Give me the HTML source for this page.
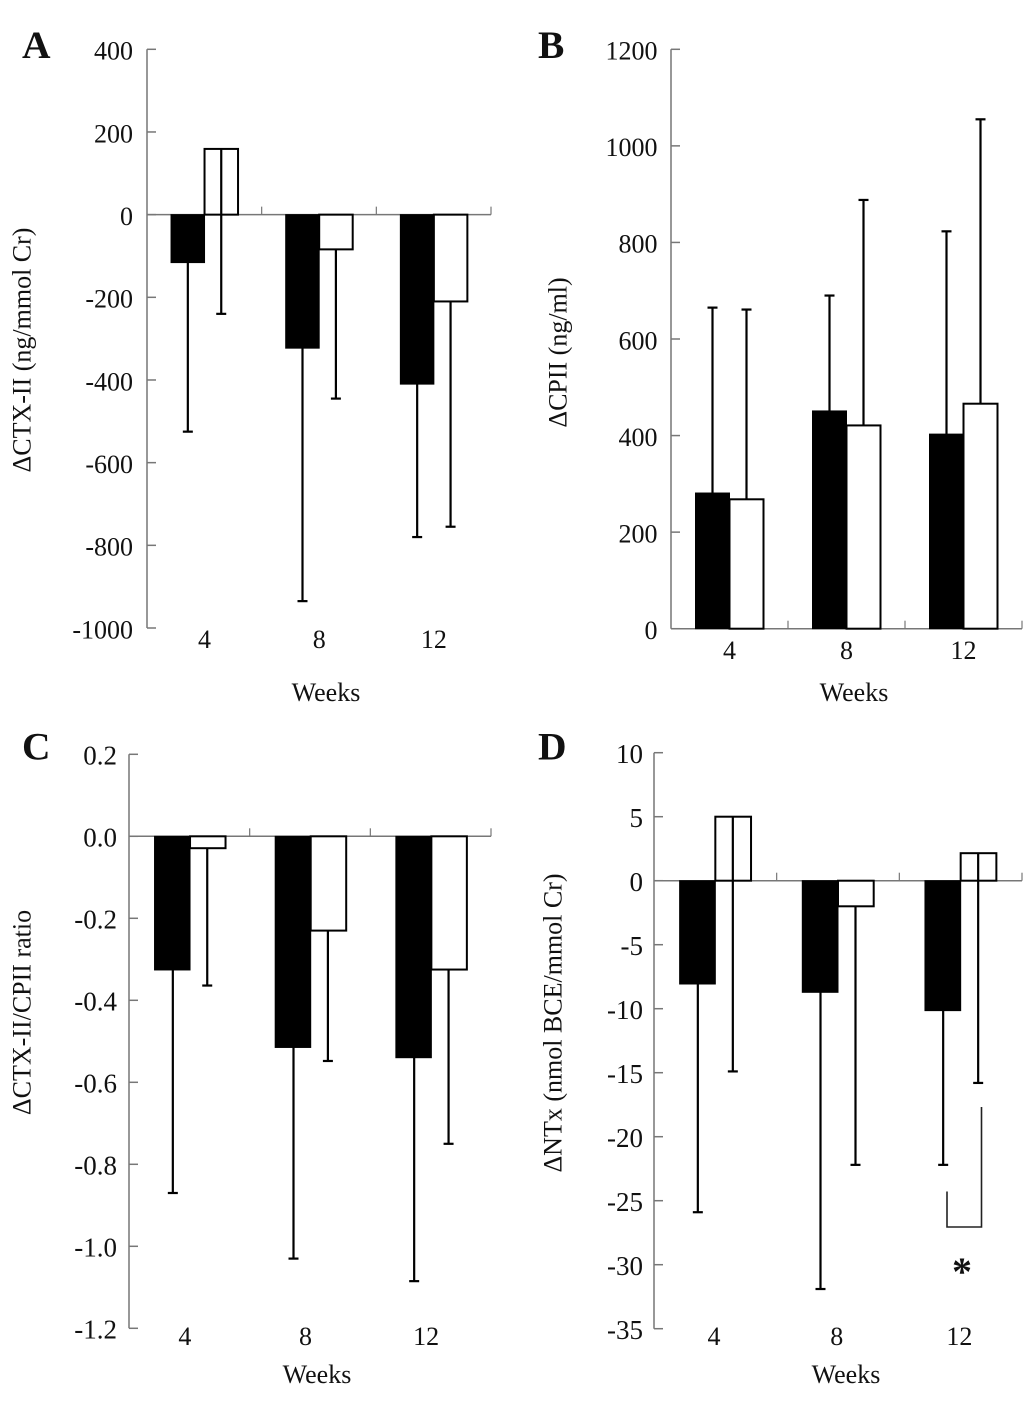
<!DOCTYPE html>
<html>
<head>
<meta charset="utf-8">
<title>Change in biomarkers by week</title>
<style>
html,body{margin:0;padding:0;background:#fff;}
#chart{display:block;width:1033px;height:1406px;}
text{font-family:"Liberation Serif",serif;fill:#111;}
</style>
</head>
<body>
<svg id="chart" width="1033" height="1406" viewBox="0 0 1033 1406" xmlns="http://www.w3.org/2000/svg"></svg>
<script>
const weeks = ['4', '8', '12'];

const ticksA = [400, 200, 0, -200, -400, -600, -800, -1000];
const blackA = [-116, -323, -410];
const whiteA = [159, -84, -210];
const blackErrA = [-525, -935, -780];
const whiteErrA = [-240, -445, -755];

const ticksB = [1200, 1000, 800, 600, 400, 200, 0];
const blackB = [281, 451, 403];
const whiteB = [268, 421, 466];
const blackErrB = [665, 690, 823];
const whiteErrB = [661, 888, 1055];

const ticksC = ['0.2', '0.0', '-0.2', '-0.4', '-0.6', '-0.8', '-1.0', '-1.2'];
const blackC = [-0.326, -0.515, -0.54];
const whiteC = [-0.029, -0.23, -0.325];
const blackErrC = [-0.87, -1.03, -1.085];
const whiteErrC = [-0.364, -0.548, -0.75];

const ticksD = [10, 5, 0, -5, -10, -15, -20, -25, -30, -35];
const blackD = [-8.07, -8.72, -10.15];
const whiteD = [5, -2, 2.15];
const blackErrD = [-25.9, -31.9, -22.2];
const whiteErrD = [-14.9, -22.2, -15.8];

const NS = 'http://www.w3.org/2000/svg';
const svg = document.getElementById('chart');

function make(tag, attrs, text, parent) {
  const el = document.createElementNS(NS, tag);
  for (const k in attrs) el.setAttribute(k, attrs[k]);
  if (text !== undefined) el.textContent = text;
  (parent || svg).appendChild(el);
  return el;
}

function drawPanel(p) {
  const g = make('g', {});
  
  

  const nums = p.ticks.map(Number);
  const top = Math.max.apply(null, nums);
  const bot = Math.min.apply(null, nums);
  const y = v => p.yTop + (top - v) / (top - bot) * (p.yBot - p.yTop);
  const step = (p.xEnd - p.xAxis) / weeks.length;
  const cx = i => p.xAxis + step * (i + 0.5) + p.cOff;
  const base = y(Math.max(bot, Math.min(top, 0)));

  const letter = make('text', {x: p.letterX, y: p.letterY, 'font-size': 39.5, 'font-weight': 'bold'}, p.id.toUpperCase(), g);
  
  

  const yAxis = make('line', {x1: p.xAxis, x2: p.xAxis, y1: p.yTop, y2: p.yBot, stroke: '#777', 'stroke-width': 1.5}, undefined, g);
  
  

  p.ticks.forEach(function (t) {
    const ty = y(Number(t));
    const tick = make('line', {x1: p.xAxis, x2: p.xAxis + 9, y1: ty, y2: ty, stroke: '#777', 'stroke-width': 1.5}, undefined, g);
    
    
    const lab = make('text', {x: p.xAxis - p.labelGap, y: ty + 10.3, 'font-size': p.labelSize, 'text-anchor': 'end'}, String(t), g);
    
    
  });

  const xAxis = make('line', {x1: p.xAxis, x2: p.xEnd, y1: base, y2: base, stroke: '#777', 'stroke-width': 1.5}, undefined, g);
  
  

  for (let i = 1; i <= weeks.length; i++) {
    const tx = p.xAxis + step * i;
    const xt = make('line', {x1: tx, x2: tx, y1: base - 8, y2: base, stroke: '#777', 'stroke-width': 1.2}, undefined, g);
    
    
  }

  weeks.forEach(function (w, i) {
    const c = cx(i);
    const errB = make('line', {x1: c - p.errOff, x2: c - p.errOff, y1: y(p.black[i]), y2: y(p.blackErr[i]), stroke: '#000', 'stroke-width': 2.2}, undefined, g);
    
    
    const capB = make('line', {x1: c - p.errOff - 5, x2: c - p.errOff + 5, y1: y(p.blackErr[i]), y2: y(p.blackErr[i]), stroke: '#000', 'stroke-width': 2.2}, undefined, g);
    
    

    const by = Math.min(y(p.black[i]), base);
    const bar1 = make('rect', {x: c - p.barW, y: by, width: p.barW, height: Math.abs(y(p.black[i]) - base), fill: '#000', stroke: '#000', 'stroke-width': 1}, undefined, g);
    
    

    const wy = Math.min(y(p.white[i]), base);
    const bar2 = make('rect', {x: c, y: wy, width: p.barW, height: Math.abs(y(p.white[i]) - base), fill: '#fff', stroke: '#000', 'stroke-width': 2}, undefined, g);
    
    

    const errW = make('line', {x1: c + p.errOff, x2: c + p.errOff, y1: y(p.white[i]), y2: y(p.whiteErr[i]), stroke: '#000', 'stroke-width': 2.2}, undefined, g);
    
    
    const capW = make('line', {x1: c + p.errOff - 5, x2: c + p.errOff + 5, y1: y(p.whiteErr[i]), y2: y(p.whiteErr[i]), stroke: '#000', 'stroke-width': 2.2}, undefined, g);
    
    

    const cat = make('text', {x: c + p.catOff, y: p.catY, 'font-size': 26, 'text-anchor': 'middle'}, w, g);
    
    
  });

  const xt = make('text', {x: p.xTitleX, y: p.xTitleY, 'font-size': 26, 'text-anchor': 'middle'}, 'Weeks', g);
  
  

  const yt = make('text', {transform: 'translate(' + p.yTitleX + ',' + p.yTitleY + ') rotate(-90)', 'font-size': 26, 'text-anchor': 'middle'}, p.title, g);
  
  
}

drawPanel({id: 'a', ticks: ticksA, black: blackA, white: whiteA, blackErr: blackErrA, whiteErr: whiteErrA,
  xAxis: 147, xEnd: 491, yTop: 49.3, yBot: 628, barW: 33.5, errOff: 16.7, cOff: 0.2, catOff: 0, catY: 648, labelGap: 14, labelSize: 26,
  letterX: 22, letterY: 58, xTitleX: 326, xTitleY: 701, yTitleX: 30.5, yTitleY: 350, title: 'ΔCTX-II (ng/mmol Cr)'});
drawPanel({id: 'b', ticks: ticksB, black: blackB, white: whiteB, blackErr: blackErrB, whiteErr: whiteErrB,
  xAxis: 671, xEnd: 1022, yTop: 49.3, yBot: 628.7, barW: 34, errOff: 17, cOff: 0, catOff: 0, catY: 659, labelGap: 13.5, labelSize: 26,
  letterX: 538, letterY: 58, xTitleX: 854, xTitleY: 701, yTitleX: 566.5, yTitleY: 352.5, title: 'ΔCPII (ng/ml)'});
drawPanel({id: 'c', ticks: ticksC, black: blackC, white: whiteC, blackErr: blackErrC, whiteErr: whiteErrC,
  xAxis: 129, xEnd: 491, yTop: 754.3, yBot: 1328.3, barW: 35.5, errOff: 17.2, cOff: 0.7, catOff: -5.2, catY: 1345, labelGap: 12, labelSize: 27,
  letterX: 22, letterY: 759.5, xTitleX: 317, xTitleY: 1383, yTitleX: 30.5, yTitleY: 1012.5, title: 'ΔCTX-II/CPII ratio'});
drawPanel({id: 'd', ticks: ticksD, black: blackD, white: whiteD, blackErr: blackErrD, whiteErr: whiteErrD,
  xAxis: 654, xEnd: 1022, yTop: 752.7, yBot: 1328.7, barW: 35.7, errOff: 17.5, cOff: 0, catOff: -1.3, catY: 1345, labelGap: 11, labelSize: 27,
  letterX: 538, letterY: 759.5, xTitleX: 846, xTitleY: 1383, yTitleX: 561.5, yTitleY: 1023, title: 'ΔNTx (nmol BCE/mmol Cr)'});

const bracket = make('polyline', {points: '947,1191.5 947,1227 981.5,1227 981.5,1107', fill: 'none', stroke: '#222', 'stroke-width': 1.6});


const star = make('text', {x: 962, y: 1285, 'font-size': 40, 'font-weight': 'bold', 'text-anchor': 'middle'}, '*');


</script>
</body>
</html>
